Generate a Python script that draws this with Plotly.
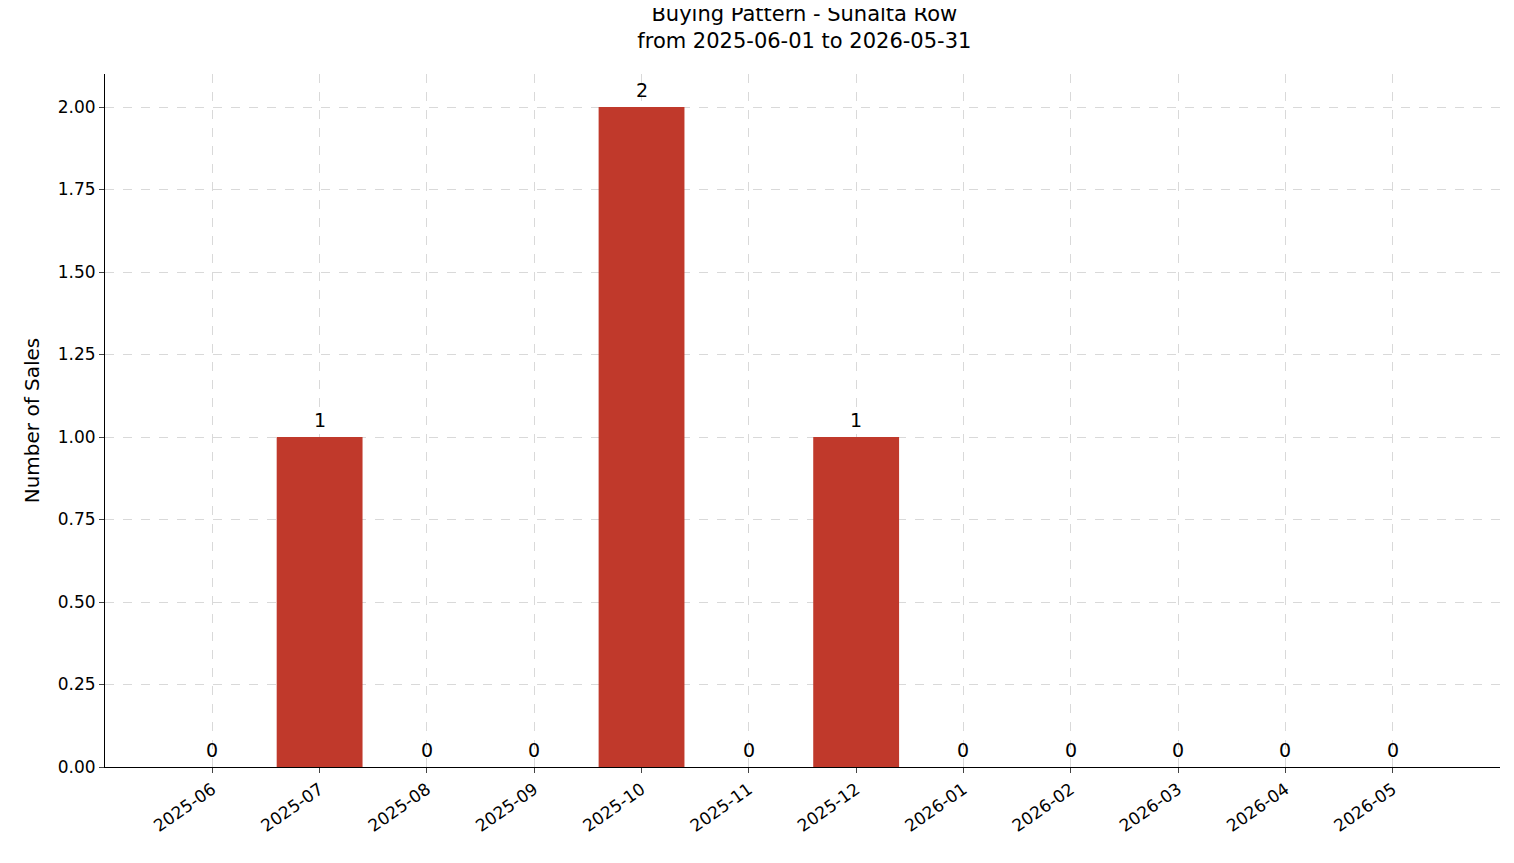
import plotly.graph_objects as go

months = ["2025-06","2025-07","2025-08","2025-09","2025-10","2025-11",
          "2025-12","2026-01","2026-02","2026-03","2026-04","2026-05"]
sales = [0, 1, 0, 0, 2, 0, 1, 0, 0, 0, 0, 0]

idx = list(range(len(months)))
fig = go.Figure()
fig.add_trace(go.Bar(x=idx, y=sales, width=0.8, marker_color="#c0392b",
                     marker_line_width=0, showlegend=False))
for i, v in zip(idx, sales):
    fig.add_annotation(x=i, y=v, text=str(v), showarrow=False, yanchor="bottom",
                       yshift=4, font=dict(size=19, color="black"))
fig.update_layout(
    width=1514, height=863, plot_bgcolor="white", paper_bgcolor="white",
    font=dict(family="DejaVu Sans", size=17, color="black"),
    margin=dict(l=97, r=22, t=66, b=104),
    title=dict(text="Buying Pattern - Sunalta Row<br>from 2025-06-01 to 2026-05-31",
               x=0.526, xanchor="center", y=0.985, yanchor="top", font=dict(size=21)),
    xaxis=dict(range=[-1, 12], tickmode="array", tickvals=idx, ticktext=months,
               tickangle=-35, showgrid=True, gridcolor="#d9d9d9", griddash="dash",
               showline=True, linecolor="black", ticks="outside", ticklen=5, zeroline=False),
    yaxis=dict(range=[0, 2.1], tickvals=[0,0.25,0.5,0.75,1,1.25,1.5,1.75,2],
               tickformat=".2f", title=dict(text="Number of Sales", standoff=12),
               showgrid=True, gridcolor="#d9d9d9", griddash="dash",
               showline=True, linecolor="black", ticks="outside", ticklen=5, zeroline=False),
)
fig.write_html("out.html")
